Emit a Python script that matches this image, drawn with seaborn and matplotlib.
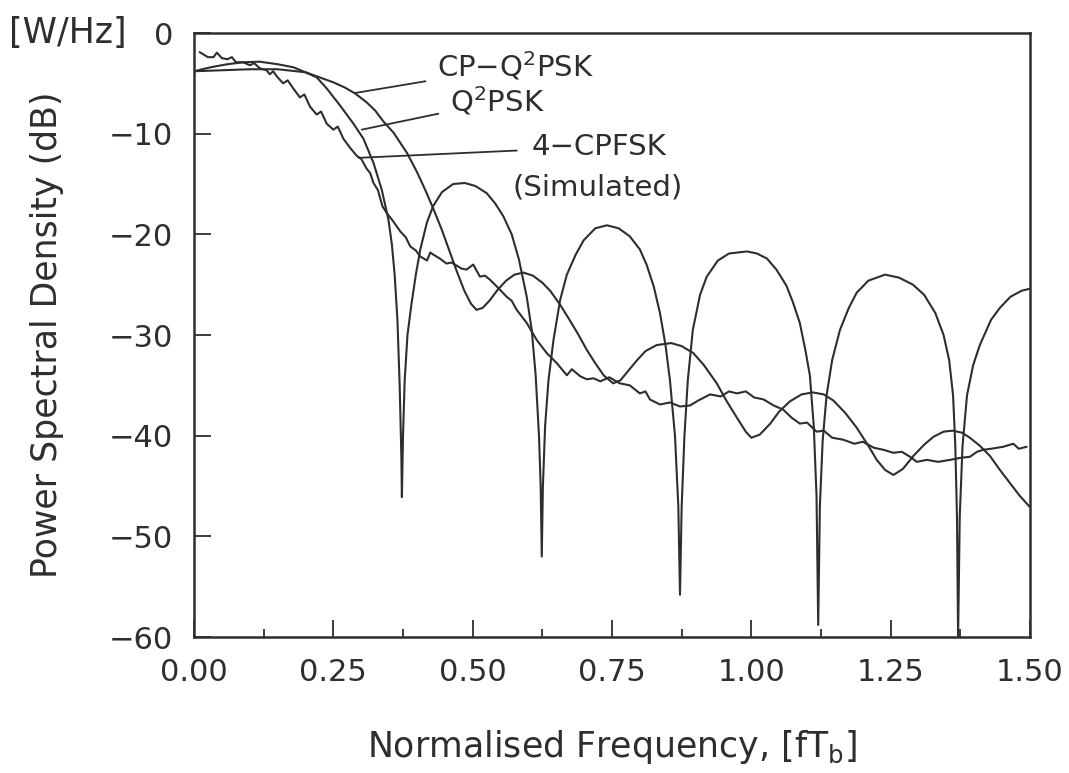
import numpy as np
import pandas as pd
import seaborn as sns
import matplotlib.pyplot as plt

# Q2PSK (deep nulls)
q2_f = [0.000, 0.030, 0.060, 0.090, 0.118, 0.150, 0.178, 0.200, 0.220, 0.238,
        0.262, 0.286, 0.304, 0.322, 0.337, 0.349, 0.355, 0.360, 0.365, 0.369,
        0.372, 0.373, 0.375, 0.378, 0.383, 0.390, 0.398, 0.406, 0.418, 0.429,
        0.445, 0.465, 0.486, 0.505, 0.525, 0.540, 0.555, 0.570, 0.583, 0.597,
        0.606, 0.613, 0.619, 0.622, 0.624, 0.626, 0.630, 0.636, 0.645, 0.657,
        0.669, 0.685, 0.699, 0.720, 0.741, 0.762, 0.782, 0.800, 0.812, 0.825,
        0.836, 0.846, 0.854, 0.863, 0.869, 0.872, 0.875, 0.880, 0.886, 0.895,
        0.908, 0.920, 0.940, 0.960, 0.992, 1.010, 1.028, 1.045, 1.063, 1.075,
        1.087, 1.097, 1.105, 1.112, 1.117, 1.120, 1.123, 1.128, 1.135, 1.145,
        1.159, 1.175, 1.189, 1.210, 1.240, 1.265, 1.290, 1.310, 1.330, 1.345,
        1.355, 1.362, 1.366, 1.369, 1.371, 1.374, 1.379, 1.387, 1.398, 1.410,
        1.430, 1.446, 1.465, 1.485, 1.500]
q2_db = [-3.8, -3.4, -3.1, -2.9, -2.85, -3.1, -3.4, -3.9, -4.4, -5.5,
         -7.2, -9.0, -10.5, -12.9, -15.6, -18.6, -21.0, -24.0, -28.5, -35.0,
         -42.0, -46.1, -40.0, -34.5, -30.0, -27.0, -24.0, -21.5, -18.8, -17.2,
         -15.8, -15.0, -14.9, -15.2, -15.9, -16.9, -18.2, -20.0, -22.5, -26.2,
         -29.5, -34.0, -40.0, -45.0, -52.0, -45.0, -39.0, -34.5, -30.5, -26.5,
         -24.0, -22.0, -20.6, -19.4, -19.1, -19.4, -20.2, -21.5, -23.0, -25.2,
         -27.8, -31.0, -34.5, -40.0, -47.0, -55.8, -47.0, -40.0, -34.5, -29.5,
         -26.0, -24.2, -22.6, -21.9, -21.7, -21.9, -22.4, -23.5, -25.1, -26.8,
         -28.8, -31.5, -34.0, -39.0, -46.0, -58.8, -47.0, -40.5, -36.0, -32.5,
         -29.5, -27.3, -25.8, -24.6, -24.0, -24.3, -25.0, -26.0, -27.8, -30.0,
         -32.5, -36.0, -41.0, -48.0, -60.0, -48.0, -41.0, -36.0, -33.0, -31.0,
         -28.5, -27.3, -26.2, -25.6, -25.4]

# CP-Q2PSK (wide main lobe, shallow dips)
cp_f = [0.000, 0.050, 0.100, 0.150, 0.200, 0.220, 0.250, 0.270, 0.289, 0.310,
        0.325, 0.340, 0.358, 0.370, 0.382, 0.400, 0.415, 0.429, 0.445, 0.458,
        0.471, 0.485, 0.497, 0.507, 0.518, 0.530, 0.545, 0.560, 0.575, 0.591,
        0.608, 0.625, 0.639, 0.657, 0.675, 0.690, 0.705, 0.720, 0.735, 0.752,
        0.765, 0.780, 0.795, 0.810, 0.830, 0.856, 0.875, 0.896, 0.915, 0.938,
        0.955, 0.974, 0.990, 1.000, 1.015, 1.034, 1.050, 1.069, 1.090, 1.110,
        1.130, 1.147, 1.168, 1.189, 1.210, 1.225, 1.240, 1.255, 1.272, 1.291,
        1.310, 1.327, 1.345, 1.361, 1.378, 1.392, 1.410, 1.428, 1.446, 1.464,
        1.482, 1.500]
cp_db = [-3.8, -3.7, -3.6, -3.6, -3.9, -4.3, -4.9, -5.4, -6.0, -6.9,
         -7.7, -8.8, -9.9, -10.9, -11.9, -13.8, -15.6, -17.4, -19.6, -21.6,
         -23.6, -25.6, -26.9, -27.5, -27.3, -26.6, -25.5, -24.6, -24.0, -23.8,
         -24.1, -24.8, -25.6, -27.0, -28.6, -30.0, -31.5, -32.8, -34.0, -34.8,
         -34.5, -33.5, -32.5, -31.6, -31.0, -30.8, -31.1, -31.8, -33.0, -34.8,
         -36.5, -38.2, -39.6, -40.2, -39.9, -38.8, -37.6, -36.6, -35.9, -35.7,
         -35.9, -36.5, -37.7, -39.2, -41.0, -42.4, -43.4, -43.9, -43.3, -42.0,
         -40.9, -40.1, -39.6, -39.5, -39.7, -40.2, -41.0, -42.0, -43.4, -44.7,
         -46.0, -47.1]

# 4-CPFSK simulated (jagged)
fsk_f = [0.010, 0.025, 0.035, 0.041, 0.050, 0.060, 0.068, 0.075, 0.088, 0.100,
         0.108, 0.118, 0.130, 0.136, 0.142, 0.150, 0.160, 0.168, 0.178, 0.190,
         0.198, 0.208, 0.220, 0.228, 0.238, 0.250, 0.258, 0.268, 0.280, 0.292,
         0.300, 0.310, 0.316, 0.322, 0.330, 0.338, 0.346, 0.356, 0.370, 0.380,
         0.388, 0.398, 0.406, 0.418, 0.424, 0.429, 0.441, 0.453, 0.462, 0.471,
         0.480, 0.489, 0.501, 0.513, 0.522, 0.531, 0.540, 0.549, 0.561, 0.570,
         0.579, 0.597, 0.615, 0.633, 0.651, 0.669, 0.678, 0.693, 0.705, 0.717,
         0.729, 0.745, 0.764, 0.782, 0.800, 0.810, 0.818, 0.836, 0.854, 0.872,
         0.890, 0.905, 0.926, 0.945, 0.960, 0.974, 0.990, 1.005, 1.022, 1.040,
         1.057, 1.072, 1.087, 1.100, 1.117, 1.130, 1.145, 1.165, 1.185, 1.200,
         1.220, 1.237, 1.255, 1.270, 1.285, 1.297, 1.315, 1.335, 1.357, 1.375,
         1.392, 1.405, 1.416, 1.430, 1.452, 1.470, 1.480, 1.494]
fsk_db = [-1.9, -2.4, -2.4, -1.95, -2.5, -2.6, -2.4, -2.9, -2.9, -3.2,
          -3.0, -3.5, -3.7, -4.1, -3.8, -4.4, -5.0, -4.7, -5.5, -6.4,
          -6.1, -7.3, -8.1, -7.8, -9.0, -9.6, -9.3, -10.5, -11.4, -12.2,
          -12.5, -13.5, -13.9, -14.9, -15.6, -17.2, -17.9, -18.6, -19.7, -20.3,
          -21.2, -21.6, -22.2, -22.6, -21.8, -22.0, -22.4, -22.9, -22.8, -23.1,
          -23.4, -23.5, -23.0, -24.2, -24.1, -24.5, -25.0, -25.5, -26.2, -26.6,
          -27.5, -28.8, -30.5, -31.8, -32.8, -34.0, -33.4, -34.1, -34.4, -34.3,
          -34.6, -34.2, -34.8, -35.0, -35.8, -35.6, -36.4, -36.9, -36.7, -37.1,
          -37.0, -36.5, -35.9, -36.1, -35.6, -35.8, -35.6, -36.2, -36.4, -37.0,
          -37.4, -38.2, -38.8, -38.7, -39.6, -39.5, -40.2, -40.4, -40.8, -40.6,
          -41.2, -41.4, -41.7, -41.6, -42.1, -42.6, -42.4, -42.6, -42.4, -42.2,
          -42.1, -41.6, -41.4, -41.3, -41.1, -40.8, -41.3, -41.1]

sns.set_style("ticks")
plt.rcParams['font.family'] = ['DejaVu Sans']
plt.rcParams['mathtext.default'] = 'regular'

ink = '#2e2e2e'
fig = plt.figure(figsize=(10.69, 7.73), dpi=100)
ax = fig.add_axes([0.1815, 0.1759, 0.782, 0.7814])

for f, db in [(q2_f, q2_db), (cp_f, cp_db), (fsk_f, fsk_db)]:
    df = pd.DataFrame({'f': f, 'db': db})
    sns.lineplot(data=df, x='f', y='db', ax=ax, color=ink, lw=1.5,
                 estimator=None, sort=True)

ax.set_xlim(0, 1.5)
ax.set_ylim(-60, 0)
ax.set_xticks(np.arange(0, 1.51, 0.25))
ax.set_xticks(np.arange(0.125, 1.5, 0.25), minor=True)
ax.set_xticklabels(['0.00', '0.25', '0.50', '0.75', '1.00', '1.25', '1.50'])
ax.set_yticks([0, -10, -20, -30, -40, -50, -60])
ax.set_yticklabels(['0', '\u221210', '\u221220', '\u221230', '\u221240', '\u221250', '\u221260'])
ax.tick_params(axis='both', which='major', direction='in', length=12, width=1.3,
               color=ink, labelsize=22, labelcolor=ink)
ax.tick_params(axis='x', which='major', pad=15)
ax.tick_params(axis='y', which='major', pad=15)
ax.tick_params(axis='x', which='minor', direction='in', length=6, width=1.3, color=ink)
for s in ax.spines.values():
    s.set_visible(True)
    s.set_color(ink)
    s.set_linewidth(1.8)

ax.set_xlabel('Normalised Frequency, [fT$_b$]', fontsize=25, color=ink)
ax.set_ylabel('Power Spectral Density (dB)', fontsize=25, color=ink)
ax.xaxis.set_label_coords(0.5, -0.15)
ax.yaxis.set_label_coords(-0.155, 0.5)
fig.text(68 / 1069, 1 - 33 / 773, '[W/Hz]', fontsize=25, color=ink,
         ha='center', va='center')

# curve labels with leader lines
lab = dict(fontsize=21, color=ink, va='center', ha='left')
ax.annotate('CP\u2212Q$^2$PSK', xy=(0.289, -5.96), xytext=(0.436, -3.3),
            arrowprops=dict(arrowstyle='-', color=ink, lw=1.3, shrinkA=6, shrinkB=0), **lab)
ax.annotate('Q$^2$PSK', xy=(0.301, -9.6), xytext=(0.459, -6.8),
            arrowprops=dict(arrowstyle='-', color=ink, lw=1.3, shrinkA=6, shrinkB=0), **lab)
ax.annotate('4\u2212CPFSK', xy=(0.295, -12.4), xytext=(0.605, -11.3),
            arrowprops=dict(arrowstyle='-', color=ink, lw=1.3, shrinkA=8, shrinkB=0), **lab)
ax.text(0.572, -15.3, '(Simulated)', **lab)

ax.set_facecolor('white')
fig.savefig('out.png', dpi=100, facecolor='white')
